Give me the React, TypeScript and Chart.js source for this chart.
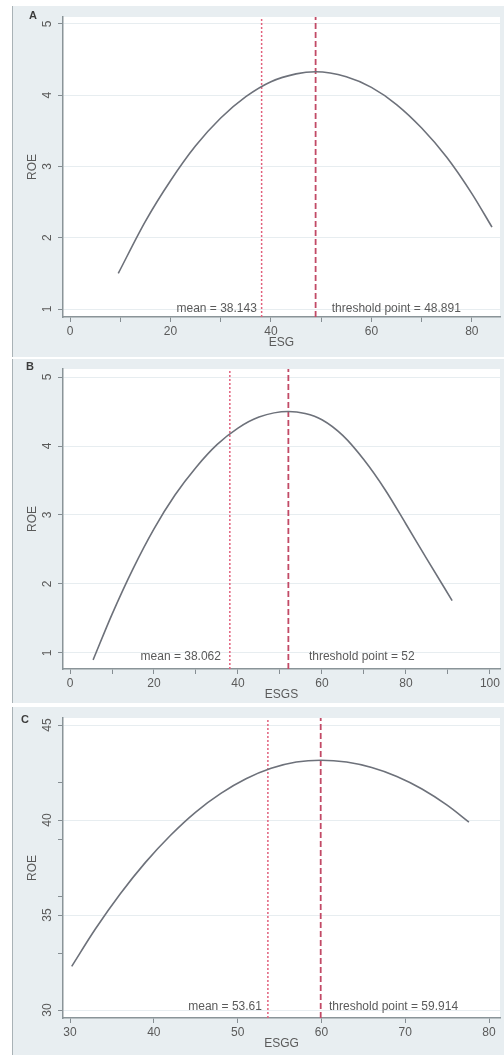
import React, { useEffect, useRef } from "react";
import { Chart, registerables } from "chart.js";
Chart.register(...registerables);

// ---------- Panel A : ESG ----------
const esgX = [9.6, 15, 20, 25, 30, 35, 40, 45, 48.891, 55, 60, 65, 70, 75, 80, 84];
const esgRoe = [1.5, 2.23, 2.8, 3.29, 3.68, 3.98, 4.19, 4.3, 4.33, 4.26, 4.11, 3.87, 3.54, 3.13, 2.62, 2.15];
const esgMean = 38.143;
const esgThreshold = 48.891;
const esgXTicks = [0, 10, 20, 30, 40, 50, 60, 70, 80];
const esgXTickLabels = ["0", "", "20", "", "40", "", "60", "", "80"];
const esgYTicks = [1, 2, 3, 4, 5];
const esgYTickLabels = ["1", "2", "3", "4", "5"];
const esgXRange = [-1.4, 85.6];
const esgYRange = [0.888, 5.098];

// ---------- Panel B : ESGS ----------
const esgsX = [5.5, 10, 15, 20, 25, 30, 35, 40, 45, 52, 56, 60, 65, 70, 75, 80, 85, 91];
const esgsRoe = [0.9, 1.56, 2.22, 2.8, 3.29, 3.69, 4.02, 4.26, 4.42, 4.5, 4.47, 4.38, 4.15, 3.8, 3.37, 2.87, 2.36, 1.76];
const esgsMean = 38.062;
const esgsThreshold = 52;
const esgsXTicks = [0, 10, 20, 30, 40, 50, 60, 70, 80, 90, 100];
const esgsXTickLabels = ["0", "", "20", "", "40", "", "60", "", "80", "", "100"];
const esgsYTicks = [1, 2, 3, 4, 5];
const esgsYTickLabels = ["1", "2", "3", "4", "5"];
const esgsXRange = [-1.67, 102.4];
const esgsYRange = [0.768, 5.116];

// ---------- Panel C : ESGG ----------
const esggX = [30.2, 33, 36, 39, 42, 45, 48, 51, 54, 57, 59.914, 63, 66, 69, 72, 75, 77.6];
const esggRoe = [32.3, 34.25, 36.12, 37.77, 39.2, 40.42, 41.4, 42.17, 42.72, 43.05, 43.15, 43.05, 42.76, 42.29, 41.63, 40.78, 39.89];
const esggMean = 53.61;
const esggThreshold = 59.914;
const esggXTicks = [30, 40, 50, 60, 70, 80];
const esggXTickLabels = ["30", "40", "50", "60", "70", "80"];
const esggYTicks = [30, 33, 35, 36, 39, 40, 42, 45];
const esggYTickLabels = ["30", "", "35", "", "", "40", "", "45"];
const esggXRange = [29.16, 81.31];
const esggYRange = [29.58, 45.37];

// ---------- styling ----------
const FONT = '"Liberation Sans", Arial, Helvetica, sans-serif';
const TEXT = "#5a5a5a";
const CURVE = "#6d717a";
const MEAN_COLOR = "#e2607c";
const THR_COLOR = "#c24a66";
const GRID = "#e7edf0";
const TICK = "#858d92";
const AXIS = "#8a9498";
const REGION = "#e8eef1";

type PanelCfg = {
  letter: string;
  xTitle: string;
  x: number[];
  y: number[];
  mean: number;
  threshold: number;
  xTicks: number[];
  xTickLabels: string[];
  yTicks: number[];
  yTickLabels: string[];
  xRange: number[];
  yRange: number[];
  meanText: string;
  thrText: string;
  meanLabelX: number;
  thrLabelX: number;
  labelY: number;
  top: number;
  height: number;
  padTop: number;
  xAxisH: number;
  letterX: number;
  letterY: number;
};

const panels: PanelCfg[] = [
  {
    letter: "A", xTitle: "ESG", x: esgX, y: esgRoe, mean: esgMean, threshold: esgThreshold,
    xTicks: esgXTicks, xTickLabels: esgXTickLabels, yTicks: esgYTicks, yTickLabels: esgYTickLabels,
    xRange: esgXRange, yRange: esgYRange,
    meanText: "mean = 38.143", thrText: "threshold point = 48.891",
    meanLabelX: 37.2, thrLabelX: 52.1, labelY: 1.01,
    top: 6, height: 351, padTop: 11, xAxisH: 40, letterX: 20, letterY: 10,
  },
  {
    letter: "B", xTitle: "ESGS", x: esgsX, y: esgsRoe, mean: esgsMean, threshold: esgsThreshold,
    xTicks: esgsXTicks, xTickLabels: esgsXTickLabels, yTicks: esgsYTicks, yTickLabels: esgsYTickLabels,
    xRange: esgsXRange, yRange: esgsYRange,
    meanText: "mean = 38.062", thrText: "threshold point = 52",
    meanLabelX: 35.95, thrLabelX: 56.9, labelY: 0.94,
    top: 359, height: 344, padTop: 10, xAxisH: 34, letterX: 17, letterY: 8,
  },
  {
    letter: "C", xTitle: "ESGG", x: esggX, y: esggRoe, mean: esggMean, threshold: esggThreshold,
    xTicks: esggXTicks, xTickLabels: esggXTickLabels, yTicks: esggYTicks, yTickLabels: esggYTickLabels,
    xRange: esggXRange, yRange: esggYRange,
    meanText: "mean = 53.61", thrText: "threshold point = 59.914",
    meanLabelX: 52.9, thrLabelX: 60.9, labelY: 30.2,
    top: 707, height: 348, padTop: 11, xAxisH: 37, letterX: 12, letterY: 13,
  },
];

function Panel({ cfg }: { cfg: PanelCfg }) {
  const ref = useRef<HTMLCanvasElement | null>(null);

  useEffect(() => {
    const canvas = ref.current;
    if (!canvas) return;

    const bgPlugin = {
      id: "plotBg",
      beforeDraw(chart: any) {
        const { ctx, chartArea: ca } = chart;
        ctx.save();
        ctx.fillStyle = "#ffffff";
        ctx.fillRect(ca.left, ca.top, ca.right - ca.left, ca.bottom - ca.top);
        ctx.restore();
      },
    };

    const labelledY = cfg.yTicks.filter((_, i) => cfg.yTickLabels[i] !== "");

    const textPlugin = {
      id: "panelText",
      afterDraw(chart: any) {
        const { ctx, chartArea: ca } = chart;
        const xs = chart.scales.x;
        const ys = chart.scales.y;
        ctx.save();
        ctx.fillStyle = TEXT;
        ctx.font = `12px ${FONT}`;
        cfg.yTicks.forEach((v, i) => {
          const lab = cfg.yTickLabels[i];
          if (!lab) return;
          const py = ys.getPixelForValue(v);
          ctx.save();
          ctx.translate(ca.left - 15, py);
          ctx.rotate(-Math.PI / 2);
          ctx.textAlign = "center";
          ctx.textBaseline = "middle";
          ctx.fillText(lab, 0, 0);
          ctx.restore();
        });
        ctx.save();
        ctx.font = `12px ${FONT}`;
        ctx.translate(ca.left - 30, (ca.top + ca.bottom) / 2);
        ctx.rotate(-Math.PI / 2);
        ctx.textAlign = "center";
        ctx.textBaseline = "middle";
        ctx.fillText("ROE", 0, 0);
        ctx.restore();
        ctx.font = `12px ${FONT}`;
        ctx.textAlign = "center";
        ctx.textBaseline = "middle";
        ctx.fillText(cfg.xTitle, (ca.left + ca.right) / 2, ca.bottom + 26);
        ctx.fillStyle = "#3c3c3c";
        ctx.font = `bold 11px ${FONT}`;
        ctx.textAlign = "center";
        ctx.fillText(cfg.letter, cfg.letterX, cfg.letterY);
        ctx.fillStyle = TEXT;
        ctx.font = `12px ${FONT}`;
        const ly = ys.getPixelForValue(cfg.labelY);
        ctx.textAlign = "right";
        ctx.fillText(cfg.meanText, xs.getPixelForValue(cfg.meanLabelX), ly);
        ctx.textAlign = "left";
        ctx.fillText(cfg.thrText, xs.getPixelForValue(cfg.thrLabelX), ly);
        ctx.restore();
      },
    };

    const chart = new Chart(canvas, {
      type: "line",
      data: {
        datasets: [
          {
            data: cfg.x.map((v, i) => ({ x: v, y: cfg.y[i] })),
            borderColor: CURVE,
            borderWidth: 1.6,
            pointRadius: 0,
            cubicInterpolationMode: "monotone",
            fill: false,
          },
          {
            data: [
              { x: cfg.mean, y: cfg.yRange[0] },
              { x: cfg.mean, y: cfg.yRange[1] },
            ],
            borderColor: MEAN_COLOR,
            borderWidth: 1.5,
            borderDash: [2, 2],
            pointRadius: 0,
            fill: false,
          },
          {
            data: [
              { x: cfg.threshold, y: cfg.yRange[0] },
              { x: cfg.threshold, y: cfg.yRange[1] },
            ],
            borderColor: THR_COLOR,
            borderWidth: 1.8,
            borderDash: [6, 3],
            pointRadius: 0,
            fill: false,
          },
        ],
      } as any,
      options: {
        responsive: false,
        animation: false,
        devicePixelRatio: 1,
        layout: { padding: { top: cfg.padTop, right: 4, left: 0, bottom: 0 } },
        plugins: { legend: { display: false }, tooltip: { enabled: false } },
        scales: {
          x: {
            type: "linear",
            min: cfg.xRange[0],
            max: cfg.xRange[1],
            afterBuildTicks: (s: any) => {
              s.ticks = cfg.xTicks.map((v) => ({ value: v }));
            },
            afterFit: (s: any) => {
              s.height = cfg.xAxisH;
            },
            ticks: {
              autoSkip: false,
              minRotation: 0,
              maxRotation: 0,
              padding: 2,
              color: TEXT,
              font: { family: FONT, size: 12 },
              callback: (_v: any, i: number) => cfg.xTickLabels[i],
            },
            grid: { drawOnChartArea: false, tickLength: 5, tickColor: TICK, tickWidth: 1 },
            border: { display: true, color: AXIS, width: 1.5 },
          },
          y: {
            type: "linear",
            min: cfg.yRange[0],
            max: cfg.yRange[1],
            afterBuildTicks: (s: any) => {
              s.ticks = cfg.yTicks.map((v) => ({ value: v }));
            },
            afterFit: (s: any) => {
              s.width = 50;
            },
            ticks: { display: false },
            grid: {
              color: (c: any) =>
                c.tick && labelledY.includes(c.tick.value) ? GRID : "rgba(0,0,0,0)",
              tickLength: 5,
              tickColor: TICK,
              tickWidth: 1,
            },
            border: { display: true, color: AXIS, width: 1.5 },
          },
        },
      } as any,
      plugins: [bgPlugin, textPlugin],
    });
    return () => chart.destroy();
  }, [cfg]);

  return (
    <div
      style={{
        position: "absolute",
        left: 12,
        top: cfg.top,
        width: 491,
        height: cfg.height,
        background: REGION,
        borderLeft: "1px solid #a9b2b6",
      }}
    >
      <canvas ref={ref} width={491} height={cfg.height} style={{ display: "block" }} />
    </div>
  );
}

export default function App() {
  useEffect(() => {
    document.body.style.margin = "0";
    document.body.style.background = "#ffffff";
  }, []);
  return (
    <div style={{ position: "relative", width: 504, height: 1055, overflow: "hidden", background: "#fff" }}>
      {panels.map((p) => (
        <Panel key={p.letter} cfg={p} />
      ))}
    </div>
  );
}
